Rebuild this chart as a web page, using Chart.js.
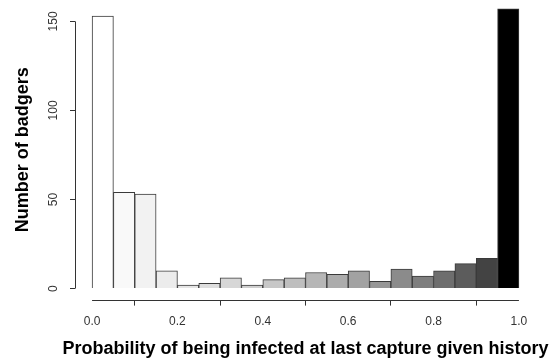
<!DOCTYPE html>
<html>
<head>
<meta charset="utf-8">
<script src="https://cdn.jsdelivr.net/npm/chart.js@4"></script>
<style>
  html, body { margin: 0; padding: 0; background: #fff; }
  #wrap { width: 550px; height: 360px; }
</style>
</head>
<body>
<div id="wrap"><canvas id="histChart"></canvas></div>
<script>
// histogram bins (midpoints of 0.05 wide bins) and counts
const binMids = [0.025, 0.075, 0.125, 0.175, 0.225, 0.275, 0.325, 0.375, 0.425, 0.475,
                 0.525, 0.575, 0.625, 0.675, 0.725, 0.775, 0.825, 0.875, 0.925, 0.975];
const counts = [153, 54, 53, 10, 2, 3, 6, 2, 5, 6, 9, 8, 10, 4, 11, 7, 10, 14, 17, 157];
const xTicks = [0, 0.2, 0.4, 0.6, 0.8, 1.0];
const yTicks = [0, 50, 100, 150];
const xTitle = 'Probability of being infected at last capture given history';

// grey ramp white -> black
const greys = ['#ffffff', '#f9f9f9', '#f2f2f2', '#ececec', '#e5e5e5', '#dedede', '#d7d7d7',
               '#cfcfcf', '#c7c7c7', '#bebebe', '#b6b6b6', '#acacac', '#a2a2a2', '#979797',
               '#8b8b8b', '#7e7e7e', '#6e6e6e', '#5c5c5c', '#434343', '#000000'];

const axisColor = '#333';
const fontFam = "'Liberation Sans', Arial, sans-serif";
const xTitleSpace = 22;

// R style detached axis lines (only span the tick range) + x title that may run wider than the axis
const rAxes = {
  id: 'rAxes',
  afterDraw(chart) {
    const { ctx, scales: { x, y } } = chart;
    ctx.save();
    ctx.strokeStyle = axisColor;
    ctx.lineWidth = 1;
    ctx.beginPath();
    const yb = Math.round(chart.chartArea.bottom) + 0.5;
    ctx.moveTo(x.getPixelForValue(xTicks[0]), yb);
    ctx.lineTo(x.getPixelForValue(xTicks[xTicks.length - 1]), yb);
    const xl = Math.round(chart.chartArea.left) + 0.5;
    ctx.moveTo(xl, y.getPixelForValue(yTicks[0]));
    ctx.lineTo(xl, y.getPixelForValue(yTicks[yTicks.length - 1]));
    ctx.stroke();

    ctx.fillStyle = '#000';
    ctx.font = 'bold 18px ' + fontFam;
    ctx.textAlign = 'center';
    ctx.textBaseline = 'middle';
    ctx.fillText(xTitle, (x.left + x.right) / 2, x.bottom - xTitleSpace / 2);
    ctx.restore();
  }
};

new Chart(document.getElementById('histChart'), {
  type: 'bar',
  data: {
    datasets: [{
      data: binMids.map((m, i) => ({ x: m, y: counts[i] })),
      backgroundColor: greys,
      borderColor: '#3a3a3a',
      borderWidth: 1,
      barPercentage: 1.0,
      categoryPercentage: 1.0
    }]
  },
  options: {
    responsive: true,
    maintainAspectRatio: false,
    animation: false,
    layout: { padding: { left: 12, right: 14, top: 0, bottom: 0 } },
    plugins: { legend: { display: false }, tooltip: { enabled: false } },
    scales: {
      x: {
        type: 'linear',
        min: -0.04,
        max: 1.04,
        offset: false,
        afterBuildTicks: s => { s.ticks = xTicks.map(v => ({ value: v })); },
        afterFit: s => { s.height += xTitleSpace; },
        border: { display: false },
        grid: { drawOnChartArea: false, drawTicks: true, tickLength: 6, color: axisColor },
        ticks: {
          color: '#333',
          font: { family: fontFam, size: 12 },
          padding: 9,
          maxRotation: 0,
          callback: v => v.toFixed(1)
        }
      },
      y: {
        min: -6.2,
        max: 162,
        afterBuildTicks: s => { s.ticks = yTicks.map(v => ({ value: v })); },
        afterFit: s => { s.paddingTop = 0; s.paddingBottom = 0; },
        border: { display: false },
        grid: { drawOnChartArea: false, drawTicks: true, tickLength: 5, color: axisColor },
        ticks: {
          color: '#333',
          font: { family: fontFam, size: 12 },
          padding: 6,
          crossAlign: 'center',
          minRotation: 90,
          maxRotation: 90
        },
        title: {
          display: true,
          text: 'Number of badgers',
          color: '#000',
          font: { family: fontFam, size: 18, weight: 'bold' },
          padding: { top: 0, bottom: 10 }
        }
      }
    }
  },
  plugins: [rAxes]
});
</script>
</body>
</html>
